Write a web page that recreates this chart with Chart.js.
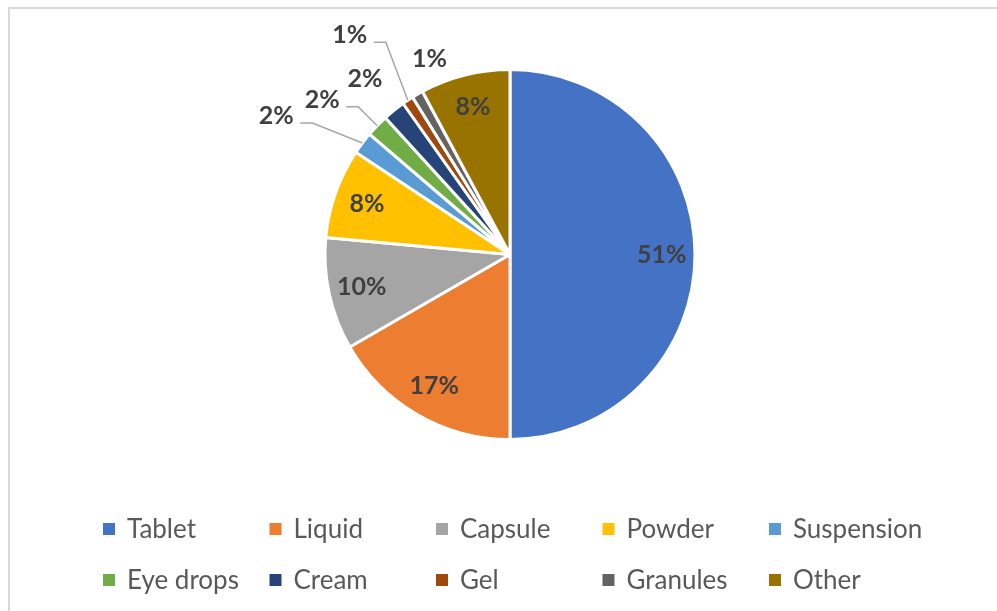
<!DOCTYPE html>
<html>
<head>
<meta charset="utf-8">
<script src="https://cdn.jsdelivr.net/npm/chart.js@4.4.1/dist/chart.umd.min.js"></script>
<style>
  html, body { margin: 0; padding: 0; background: #fff; }
  #wrap  { position: relative; width: 997px; height: 611px; overflow: hidden; }
  #frame { position: absolute; left: 8px; top: 7px; width: 1100px; height: 800px;
           border-left: 2px solid #d9d9d9; border-top: 2px solid #d9d9d9; pointer-events: none; }
  canvas { position: absolute; left: 0; top: 0; }
</style>
</head>
<body>
<div id="wrap">
  <canvas id="pie" width="997" height="611"></canvas>
  <div id="frame"></div>
</div>
<script>
const categories = ['Tablet', 'Liquid', 'Capsule', 'Powder', 'Suspension', 'Eye drops', 'Cream', 'Gel', 'Granules', 'Other'];
const shares     = [51, 17, 10, 8, 2, 2, 2, 1, 1, 8];
const colors     = ['#4472C4', '#ED7D31', '#A5A5A5', '#FFC000', '#5B9BD5', '#70AD47', '#264478', '#9E480E', '#636363', '#997300'];

// small slices get their label outside, shifted from the slice's outer mid point
const OUTSIDE = {
  4: { dx: -86, dy: -27, leader: true },
  5: { dx: -55, dy: -26, leader: true },
  6: { dx: -29, dy: -31, leader: false },
  7: { dx: -58, dy: -65, leader: true },
  8: { dx: 12,  dy: -35, leader: false },
};

const LABEL_FONT  = 'bold 25px Lato';
const LEGEND_FONT = '26px Lato';

/* ---- percent labels on / next to the slices ---- */
const sliceLabels = {
  id: 'sliceLabels',
  afterDatasetsDraw(chart) {
    const { ctx } = chart;
    const meta = chart.getDatasetMeta(0);
    ctx.save();
    ctx.font = LABEL_FONT;
    ctx.fillStyle = '#404040';
    ctx.textAlign = 'center';
    ctx.textBaseline = 'middle';
    meta.data.forEach((arc, i) => {
      const { x, y, startAngle, endAngle, outerRadius } =
        arc.getProps(['x', 'y', 'startAngle', 'endAngle', 'outerRadius'], true);
      const mid  = (startAngle + endAngle) / 2;
      const text = shares[i] + '%';
      const out  = OUTSIDE[i];
      if (!out) {
        const r = outerRadius * 0.82;
        ctx.fillText(text, x + Math.cos(mid) * r, y + Math.sin(mid) * r);
        return;
      }
      const ex = x + Math.cos(mid) * outerRadius;
      const ey = y + Math.sin(mid) * outerRadius;
      const lx = ex + out.dx;
      const ly = ey + out.dy;
      if (out.leader) {
        ctx.strokeStyle = '#a6a6a6';
        ctx.lineWidth = 1.5;
        ctx.beginPath();
        ctx.moveTo(lx + 24, ly + 7);
        ctx.lineTo(lx + 36, ly + 7);
        ctx.lineTo(ex, ey);
        ctx.stroke();
      }
      ctx.fillText(text, lx, ly);
    });
    ctx.restore();
  }
};

/* ---- legend in a fixed 5 column grid ---- */
const gridLegend = {
  id: 'gridLegend',
  afterDraw(chart) {
    const { ctx } = chart;
    const labels = chart.data.labels;
    const bg = chart.data.datasets[0].backgroundColor;
    ctx.save();
    ctx.font = LEGEND_FONT;
    ctx.textBaseline = 'middle';
    ctx.textAlign = 'left';
    labels.forEach((name, i) => {
      const col = i % 5, row = Math.floor(i / 5);
      const bx = 103 + col * 166.5;
      const by = 529 + row * 51;
      ctx.fillStyle = bg[i];
      ctx.fillRect(bx, by - 6, 12, 12);
      ctx.fillStyle = '#595959';
      ctx.fillText(name, bx + 24, by + 1);
    });
    ctx.restore();
  }
};

new Chart(document.getElementById('pie'), {
  type: 'pie',
  data: {
    labels: categories,
    datasets: [{
      data: shares,
      backgroundColor: colors,
      borderColor: '#ffffff',
      borderWidth: 3,
    }],
  },
  options: {
    responsive: false,
    animation: false,
    layout: { padding: { top: 68, bottom: 170, left: 323, right: 300 } },
    plugins: {
      legend: { display: false },
      tooltip: { enabled: false },
    },
  },
  plugins: [sliceLabels, gridLegend],
});
</script>
</body>
</html>
